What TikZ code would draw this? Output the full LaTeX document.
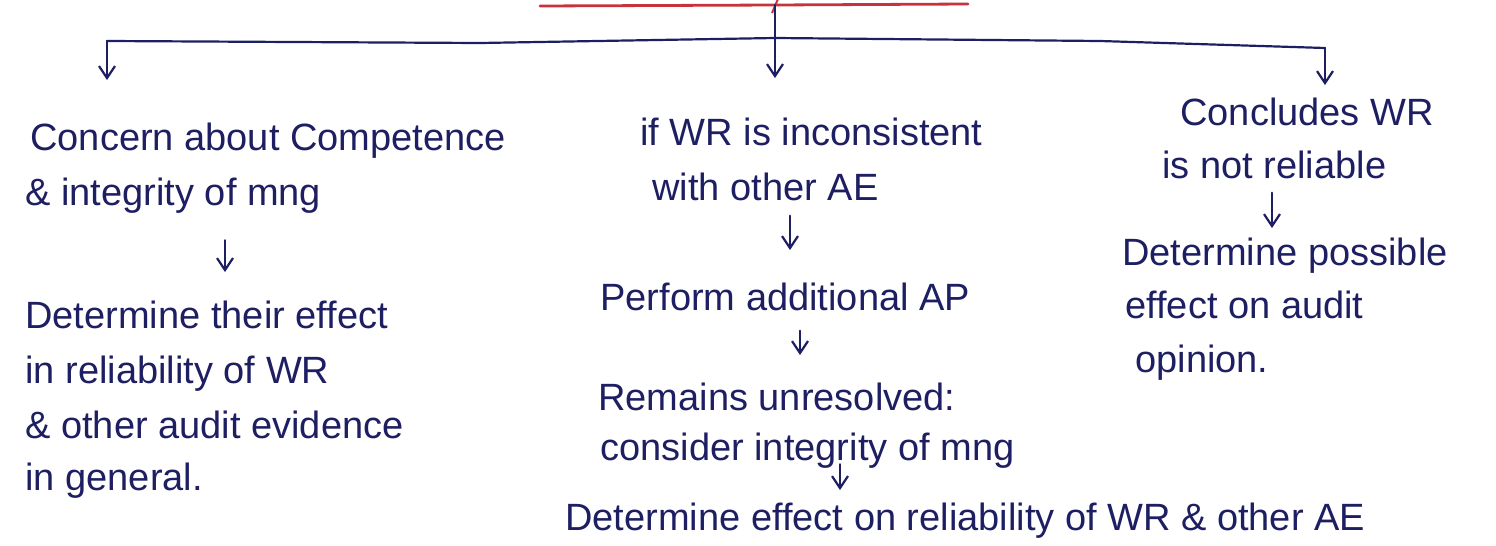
\documentclass[tikz,border=0pt]{standalone}
\usepackage{fontspec}
\setmainfont{Liberation Sans}
\usetikzlibrary{arrows.meta}
\definecolor{ink}{HTML}{1E1E62}
\definecolor{redink}{HTML}{C8323C}
\begin{document}
\begin{tikzpicture}[x=0.5pt,y=-0.5pt,
  txt/.style={inner sep=0pt, anchor=base west, text=ink, font=\fontsize{19}{27.5}\selectfont},
  conn/.style={draw=ink, line width=1.1pt, line cap=round, line join=round},
  arr/.style={conn, -{Straight Barb[length=6pt,width=8pt,line width=1.1pt]}}]
\useasboundingbox (0,0) rectangle (1496,546);
% top heading underline (red)
\coordinate (redL) at (540,6);
\coordinate (redR) at (968,4);
\coordinate (top) at (775,5);
\draw[draw=redink, line width=1.4pt, line cap=round] (redL) -- (top) -- (redR);
\draw[draw=redink, line width=1pt] (772,13) -- (778,-1);
% bus
\coordinate (busL) at (107,41);
\coordinate (busM) at (775,38);
\coordinate (busR) at (1325,48);
\draw[conn] (busL) -- (480,43) -- (busM) -- (1100,41) -- (busR);
\draw[conn] (top) -- (busM);
% text: left column
\node[txt] (L1) at (30,150) {Concern about Competence};
\node[txt] (L2) at (25,205) {\& integrity of mng};
\node[txt] (L3) at (25,328) {Determine their effect};
\node[txt] (L4) at (25,383) {in reliability of WR};
\node[txt] (L5) at (25,438) {\& other audit evidence};
\node[txt] (L6) at (25,490) {in general.};
% text: middle column
\node[txt] (M1) at (640,145) {if WR is inconsistent};
\node[txt] (M2) at (652,200) {with other AE};
\node[txt] (M3) at (600,310) {Perform additional AP};
\node[txt] (M4) at (598,410) {Remains unresolved:};
\node[txt] (M5) at (600,460) {consider integrity of mng};
\node[txt] (M6) at (565,530) {Determine effect on reliability of WR \& other AE};
% text: right column
\node[txt] (R1) at (1180,125) {Concludes WR};
\node[txt] (R2) at (1162,178) {is not reliable};
\node[txt] (R3) at (1122,265) {Determine possible};
\node[txt] (R4) at (1125,318) {effect on audit};
\node[txt] (R5) at (1135,372) {opinion.};
% arrow x positions
\coordinate (xl) at (225,0);
\coordinate (xm1) at (790,0);
\coordinate (xm2) at (800,0);
\coordinate (xm3) at (840,0);
\coordinate (xr) at (1272,0);
% branch arrows
\draw[arr] (busL) -- ([yshift=21pt]L1.north -| busL);
\draw[arr] (busM) -- ([yshift=19.5pt]M1.north -| busM);
\draw[arr] (busR) -- ([yshift=6pt]R1.north -| busR);
% step arrows
\draw[arr] ([yshift=-13.5pt]L2.south -| xl) -- ([yshift=14pt]L3.north -| xl);
\draw[arr] ([yshift=-7.5pt]M2.south -| xm1) -- ([yshift=16pt]M3.north -| xm1);
\draw[arr] ([yshift=-10pt]M3.south -| xm2) -- ([yshift=13.5pt]M4.north -| xm2);
\draw[arr] ([yshift=2pt]M5.south -| xm3) -- ([yshift=6pt]M6.north -| xm3);
\draw[arr] ([yshift=-7pt]R2.south -| xr) -- ([yshift=4.5pt]R3.north -| xr);
\end{tikzpicture}
\end{document}
